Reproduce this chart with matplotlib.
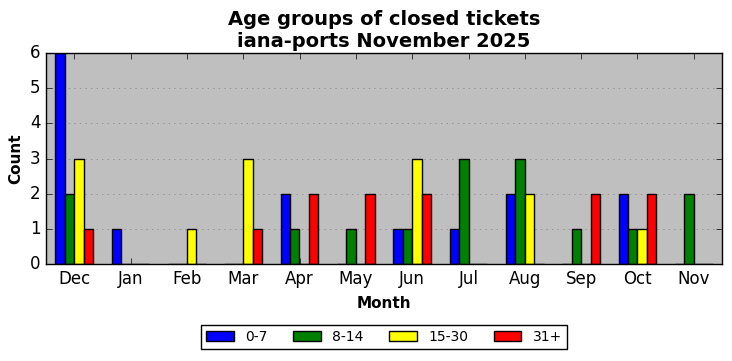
import numpy as np
import matplotlib
matplotlib.use('Agg')
import matplotlib.pyplot as plt

months = ['Dec', 'Jan', 'Feb', 'Mar', 'Apr', 'May', 'Jun', 'Jul', 'Aug', 'Sep', 'Oct', 'Nov']
age_0_7 = [6, 1, 0, 0, 2, 0, 1, 1, 2, 0, 2, 0]
age_8_14 = [2, 0, 0, 0, 1, 1, 1, 3, 3, 1, 1, 2]
age_15_30 = [3, 0, 1, 3, 0, 0, 3, 0, 2, 0, 1, 0]
age_31p = [1, 0, 0, 1, 2, 2, 2, 0, 0, 2, 2, 0]

series = [('0-7', age_0_7, 'b'), ('8-14', age_8_14, 'g'),
          ('15-30', age_15_30, 'yellow'), ('31+', age_31p, 'r')]

plt.style.use('classic')
fig = plt.figure(figsize=(7.32, 3.61), dpi=100)
ax = fig.add_axes([46/732, 1 - 264/361, 676/732, 211/361])
ax.set_facecolor('#bfbfbf')

x = np.arange(len(months))
w = 1 / 6
for i, (lab, vals, col) in enumerate(series):
    ax.bar(x - 2 * w + i * w, vals, w, align='edge', color=col,
           edgecolor='black', linewidth=1, label=lab)

ax.set_xlim(-0.5, len(months) - 0.5)
ax.set_ylim(0, 6)
ax.set_xticks(x)
ax.set_xticklabels(months)
ax.yaxis.grid(True, linestyle=':', color='gray')
ax.set_axisbelow(True)
ax.set_xlabel('Month', fontweight='bold', fontsize=11, labelpad=6)
ax.set_ylabel('Count', fontweight='bold', fontsize=11)
ax.set_title('Age groups of closed tickets\niana-ports November 2025',
             fontweight='bold', fontsize=14, y=0.995)
ax.legend(loc='upper center', bbox_to_anchor=(0.5, -0.29), ncol=4,
          fontsize=10, frameon=True, borderaxespad=0, columnspacing=1.85,
          borderpad=0.35)

fig.savefig('out.png', dpi=100)
